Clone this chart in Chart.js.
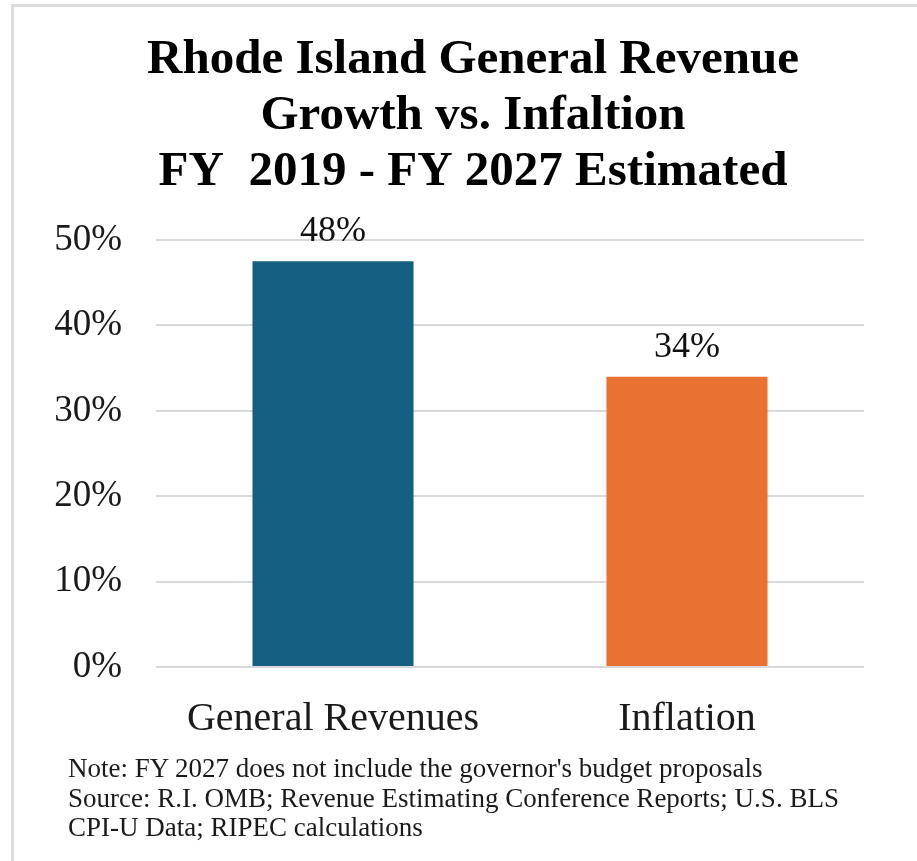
<!DOCTYPE html>
<html>
<head>
<meta charset="utf-8">
<script src="https://cdn.jsdelivr.net/npm/chart.js@4/dist/chart.umd.min.js"></script>
<style>
  html, body { margin: 0; padding: 0; background: #fff; }
  #wrap { position: relative; width: 917px; height: 861px; overflow: hidden; }
  #frame { position: absolute; left: 11px; top: 4px; width: 940px; height: 900px;
           border-left: 3px solid #dcdcdc; border-top: 3px solid #dcdcdc; }
  canvas { position: absolute; left: 0; top: 0; }
  #notes { position: absolute; left: 68px; top: 754px; font-family: 'Liberation Serif', serif;
           font-size: 27px; line-height: 29.5px; color: #1a1a1a; white-space: nowrap; }
</style>
</head>
<body>
<div id="wrap">
  <div id="frame"></div>
  <canvas id="c" width="917" height="861"></canvas>
  <div id="notes"></div>
</div>
<script>
const titleLines = ["Rhode Island General Revenue", "Growth vs. Infaltion", "FY  2019 - FY 2027 Estimated"];
const categories = ["General Revenues", "Inflation"];
const growthValues = [47.5, 34.0];
const valueLabels = ["48%", "34%"];
const barColors = ["#156082", "#E97132"];
const yTicks = [0, 10, 20, 30, 40, 50];
const noteLines = [
  "Note: FY 2027 does not include the governor's budget proposals",
  "Source: R.I. OMB; Revenue Estimating Conference Reports; U.S. BLS",
  "CPI-U Data; RIPEC calculations"
];

document.getElementById('notes').innerHTML = noteLines.map(s => s.replace(/&/g,'&amp;').replace(/</g,'&lt;')).join('<br>');

const serif = "'Liberation Serif', 'DejaVu Serif', serif";

const titlePlugin = {
  id: 'titleDraw',
  afterDraw(chart) {
    const ctx = chart.ctx;
    ctx.save();
    ctx.fillStyle = '#000';
    ctx.textAlign = 'center';
    ctx.textBaseline = 'alphabetic';
    ctx.font = "bold 49px " + serif;
    const baselines = [73, 129, 185];
    titleLines.forEach((t, i) => ctx.fillText(t, 473, baselines[i]));
    ctx.restore();
  }
};

const labelPlugin = {
  id: 'valueLabels',
  afterDatasetsDraw(chart) {
    const ctx = chart.ctx;
    const meta = chart.getDatasetMeta(0);
    ctx.save();
    ctx.fillStyle = '#111';
    ctx.textAlign = 'center';
    ctx.textBaseline = 'alphabetic';
    ctx.font = "36px " + serif;
    meta.data.forEach((bar, i) => {
      ctx.fillText(valueLabels[i], bar.x, bar.y - 20);
    });
    ctx.restore();
  }
};

new Chart(document.getElementById('c'), {
  type: 'bar',
  data: {
    labels: categories,
    datasets: [{
      data: growthValues,
      backgroundColor: barColors,
      borderWidth: 0,
      categoryPercentage: 0.455,
      barPercentage: 1.0
    }]
  },
  options: {
    responsive: false,
    animation: false,
    devicePixelRatio: 1,
    layout: { padding: { left: 20, right: 53, top: 240, bottom: 124 } },
    plugins: { legend: { display: false }, title: { display: false }, tooltip: { enabled: false } },
    scales: {
      y: {
        min: 0, max: 50,
        afterBuildTicks(scale) { scale.ticks = yTicks.map(v => ({ value: v })); },
        afterFit(scale) { scale.width = 136; },
        border: { display: false },
        grid: { color: '#d9d9d9', lineWidth: 2, drawTicks: false },
        ticks: {
          padding: 34,
          color: '#1a1a1a',
          font: { family: serif, size: 37 },
          callback: v => v + '%'
        }
      },
      x: {
        afterFit(scale) { scale.height = 70; },
        border: { display: false },
        grid: { display: false, drawTicks: false },
        ticks: {
          padding: 28,
          color: '#1a1a1a',
          font: { family: serif, size: 40 }
        }
      }
    }
  },
  plugins: [titlePlugin, labelPlugin]
});
</script>
</body>
</html>
